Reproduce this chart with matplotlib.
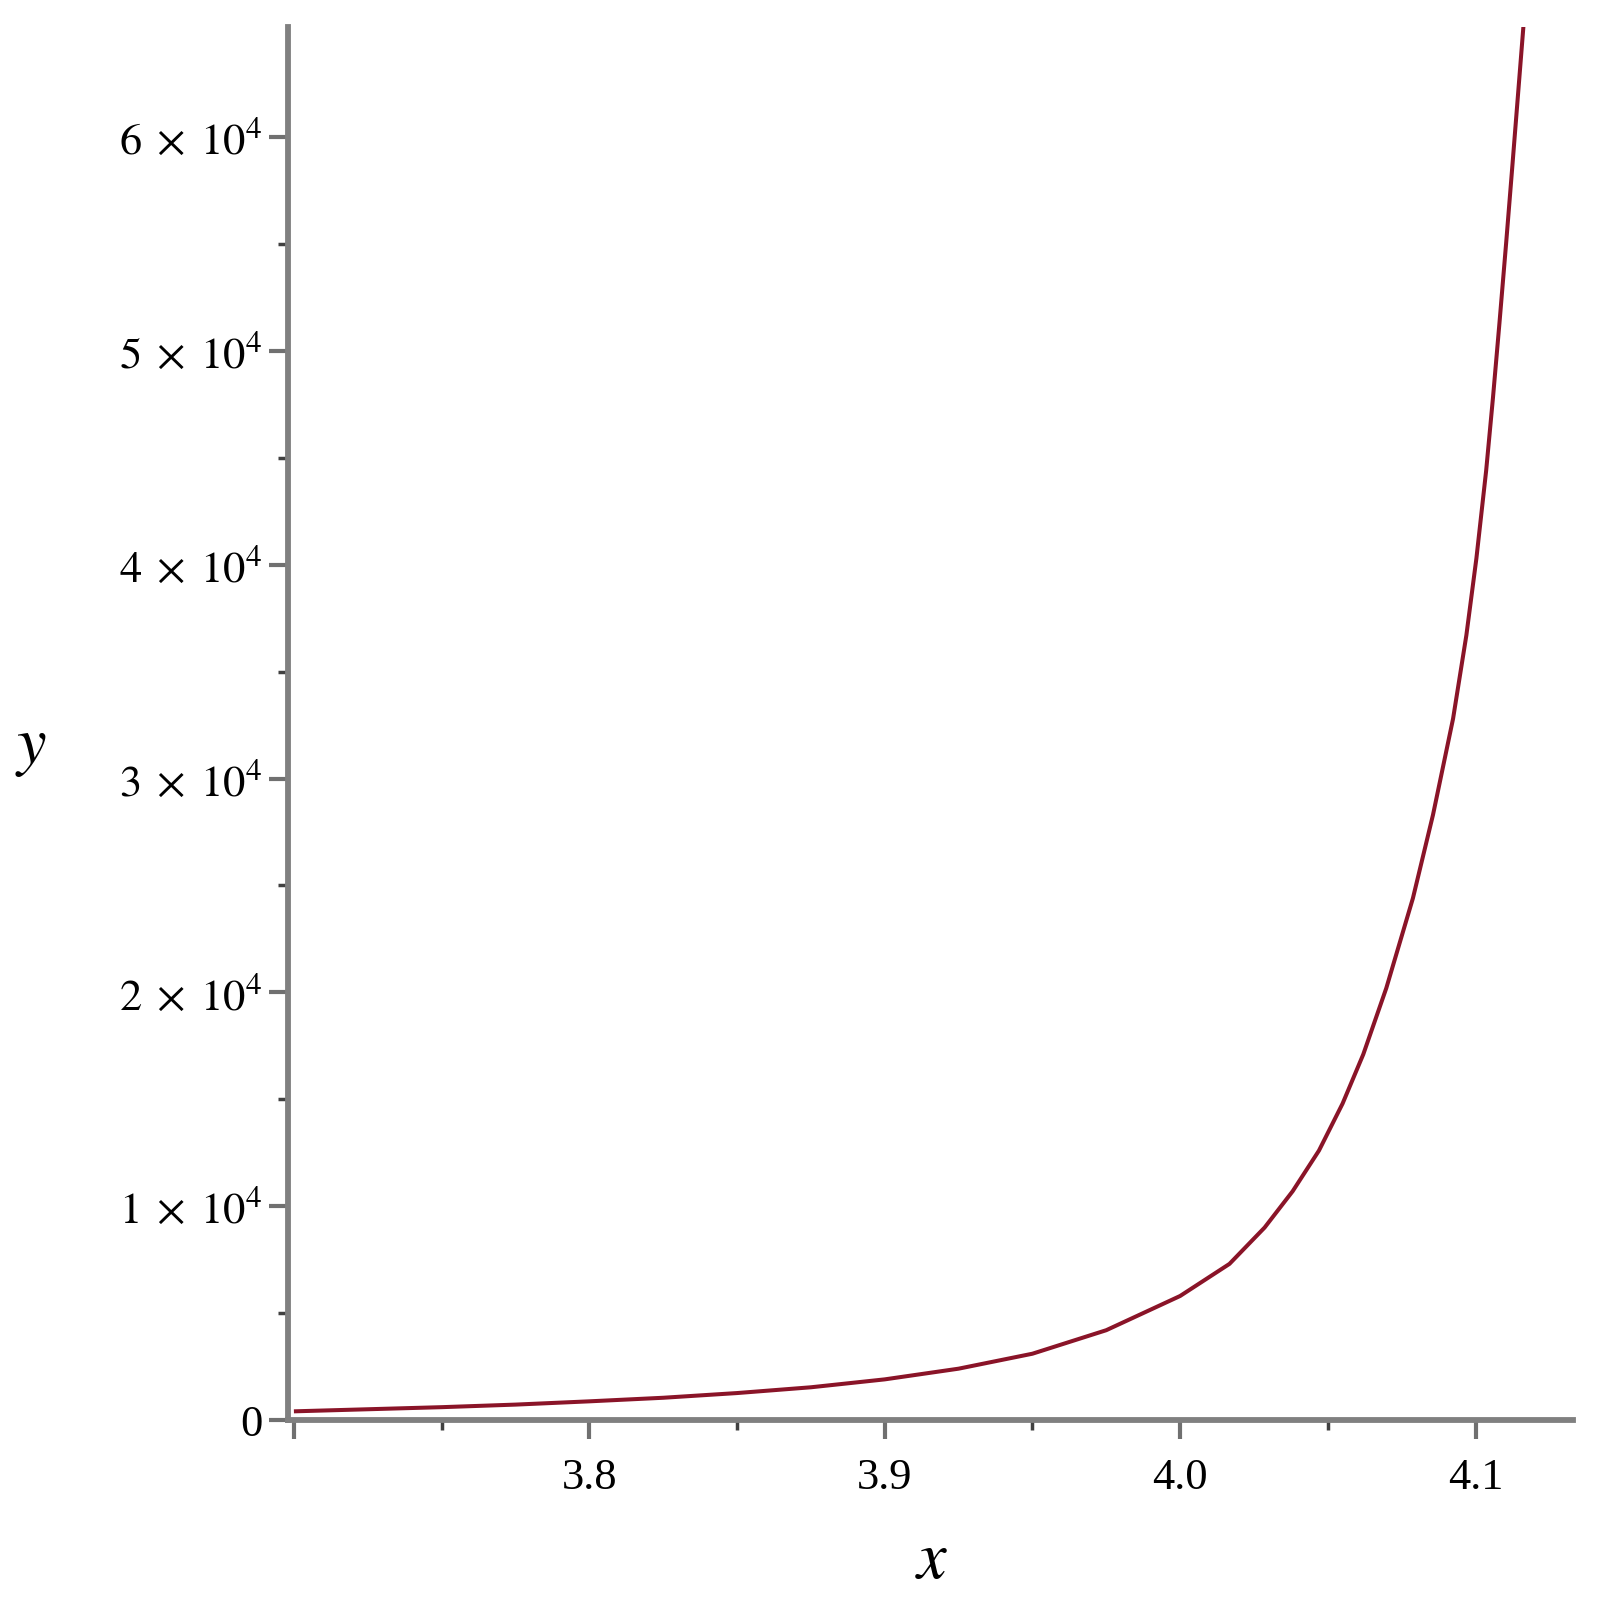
import matplotlib
matplotlib.use("Agg")
import matplotlib.pyplot as plt
from matplotlib.ticker import FixedLocator, FixedFormatter

# ---- data ----
x_vals = [3.700, 3.750, 3.775, 3.800, 3.825, 3.850, 3.875, 3.900, 3.925,
          3.950, 3.975, 4.000, 4.0167, 4.0286, 4.0381, 4.0470, 4.0550,
          4.0620, 4.0698, 4.0788, 4.0856, 4.0924, 4.0969, 4.1003, 4.1036,
          4.1059, 4.1081, 4.1104, 4.1125, 4.1160, 4.1180]
y_vals = [405, 600, 720, 873, 1040, 1260, 1530, 1900, 2400,
          3100, 4200, 5800, 7300, 9000, 10700, 12600, 14800,
          17100, 20200, 24400, 28300, 32800, 36700, 40300, 44400,
          47800, 51300, 55100, 58700, 64800, 68300]

x_major = [3.7, 3.8, 3.9, 4.0, 4.1]
x_major_labels = ["", "3.8", "3.9", "4.0", "4.1"]
x_minor = [3.75, 3.85, 3.95, 4.05]
y_major = [0, 10000, 20000, 30000, 40000, 50000, 60000]
y_major_labels = ["0", r"$1\;\times\;10^{4}$", r"$2\;\times\;10^{4}$", r"$3\;\times\;10^{4}$",
                  r"$4\;\times\;10^{4}$", r"$5\;\times\;10^{4}$", r"$6\;\times\;10^{4}$"]
y_minor = [5000, 15000, 25000, 35000, 45000, 55000]

plt.rcParams["mathtext.fontset"] = "stix"
plt.rcParams["font.family"] = ["Liberation Serif", "DejaVu Serif"]

W, H = 1603, 1606
fig = plt.figure(figsize=(W / 100, H / 100), dpi=100)
left, right, top, bottom = 288, 1573, 28, 1421
ax = fig.add_axes([left / W, (H - bottom) / H, (right - left) / W, (bottom - top) / H])

ax.plot(x_vals, y_vals, color="#8a1428", lw=2.9, solid_joinstyle="round",
        solid_capstyle="butt", clip_on=True)

ax.set_xlim(3.698, 4.133)
ax.set_ylim(0, 65150)

for s in ["top", "right"]:
    ax.spines[s].set_visible(False)
for s in ["left", "bottom"]:
    ax.spines[s].set_color("#808080")
    ax.spines[s].set_linewidth(4.2)

ax.xaxis.set_major_locator(FixedLocator(x_major))
ax.xaxis.set_major_formatter(FixedFormatter(x_major_labels))
ax.xaxis.set_minor_locator(FixedLocator(x_minor))
ax.yaxis.set_major_locator(FixedLocator(y_major))
ax.yaxis.set_major_formatter(FixedFormatter(y_major_labels))
ax.yaxis.set_minor_locator(FixedLocator(y_minor))

ax.tick_params(axis="both", which="major", length=13.5, width=3.0, color="#707070",
               labelsize=32)
ax.tick_params(axis="x", which="major", pad=13)
ax.tick_params(axis="y", which="major", pad=5)
ax.tick_params(axis="both", which="minor", length=7.5, width=2.5, color="#404040")

ax.set_xlabel("x", fontsize=48, style="italic", family="STIXGeneral",
              ha="center", va="center")
ax.xaxis.set_label_coords(0.501, -0.101)
ax.set_ylabel("y", fontsize=48, style="italic", family="STIXGeneral", rotation=0,
              ha="center", va="center")
ax.yaxis.set_label_coords(-0.2, 0.484)

fig.savefig("out.png", dpi=100, facecolor="white")
